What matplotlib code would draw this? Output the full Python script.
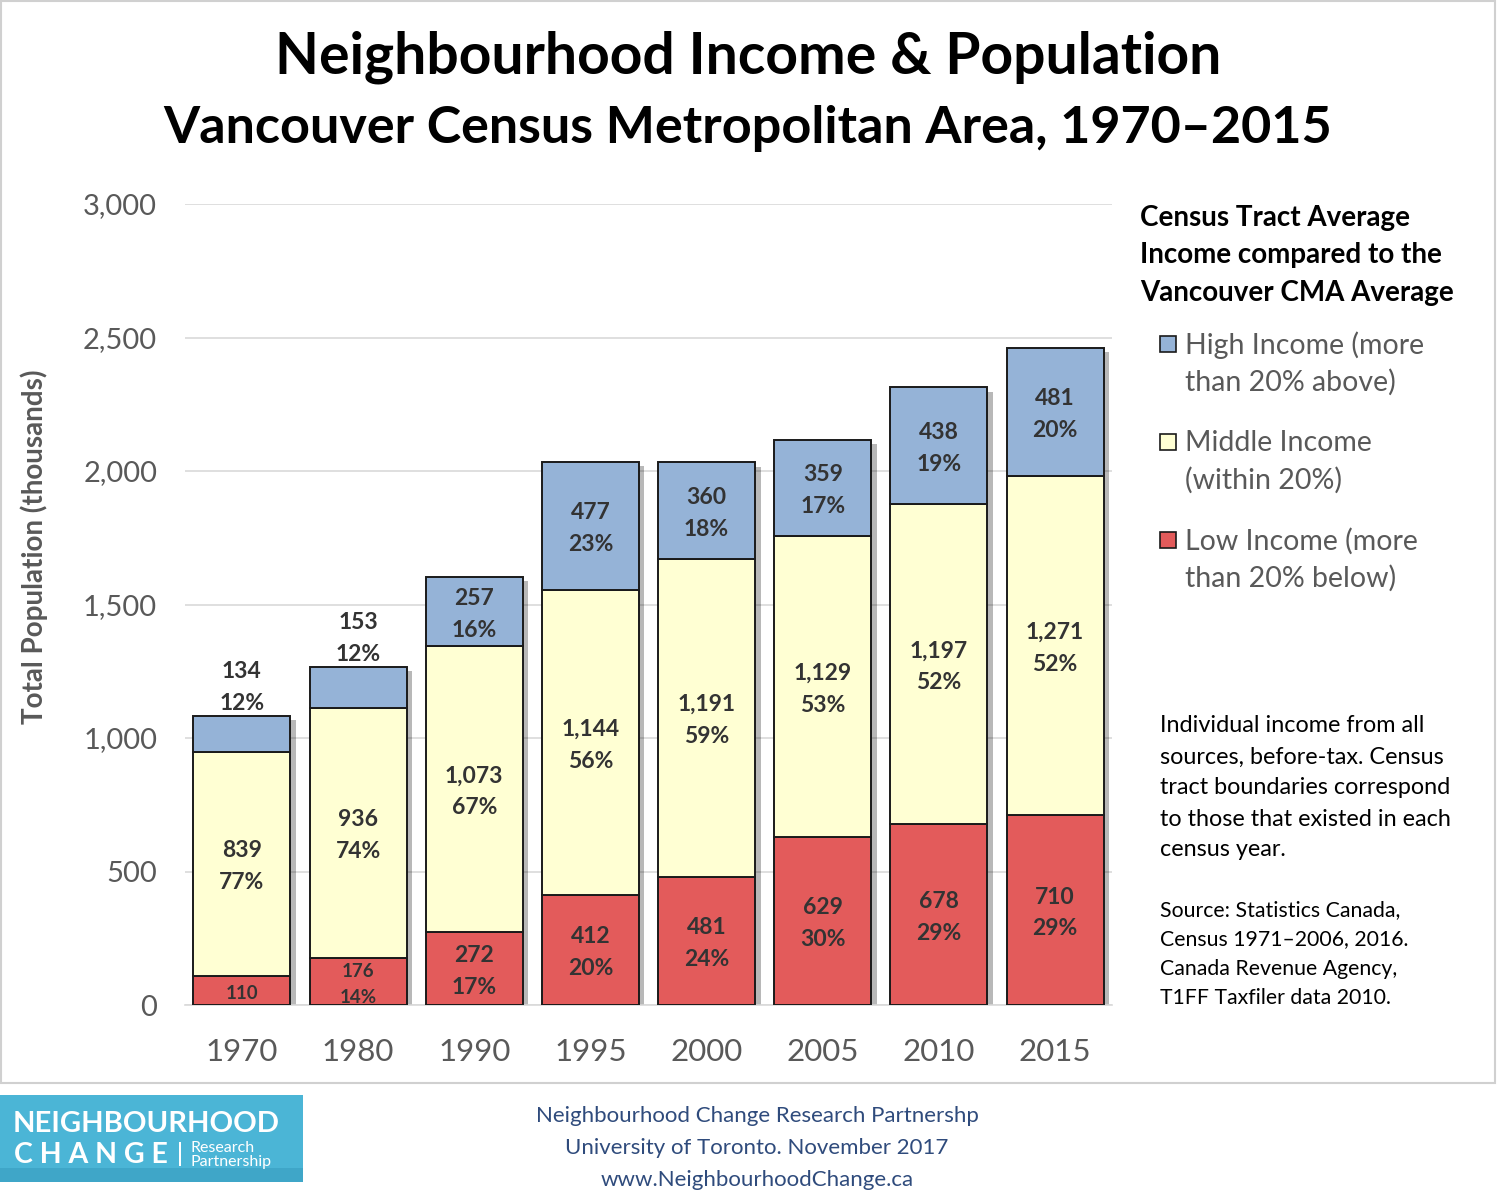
import matplotlib
matplotlib.use("Agg")
import matplotlib.pyplot as plt
import matplotlib.patheffects as pe
from matplotlib.patches import Rectangle
import numpy as np

years = ["1970", "1980", "1990", "1995", "2000", "2005", "2010", "2015"]
low = [110, 176, 272, 412, 481, 629, 678, 710]
middle = [839, 936, 1073, 1144, 1191, 1129, 1197, 1271]
high = [134, 153, 257, 477, 360, 359, 438, 481]
low_pct = ["", "14%", "17%", "20%", "24%", "30%", "29%", "29%"]
mid_pct = ["77%", "74%", "67%", "56%", "59%", "53%", "52%", "52%"]
high_pct = ["12%", "12%", "16%", "23%", "18%", "17%", "19%", "20%"]
yticks = [0, 500, 1000, 1500, 2000, 2500, 3000]

FONT = "Lato"
plt.rcParams["font.family"] = [FONT, "DejaVu Sans"]

W, H = 1500, 1199
fig = plt.figure(figsize=(W / 100, H / 100), dpi=100)

def fx(px):
    return px / W

def fy(py):
    return 1 - py / H

ax = fig.add_axes([fx(185), fy(1005), fx(1112) - fx(185), fy(204) - fy(1005)])

c_low = "#E35B5B"
c_mid = "#FFFFD3"
c_high = "#95B3D7"
txt = "#333333"
grey = "#595959"

x = np.arange(len(years))
bw = 0.835
low_a = np.array(low)
mid_a = np.array(middle)
high_a = np.array(high)
total = low_a + mid_a + high_a

# shadow base (whole stacked bar)
base = ax.bar(x, total, bw, color="white", edgecolor="none", linewidth=0, zorder=2)
shadow = [pe.SimplePatchShadow(offset=(4, -3), shadow_rgbFace="#000000", alpha=0.28), pe.Normal()]
for p in base:
    p.set_path_effects(shadow)

ax.bar(x, low_a, bw, color=c_low, edgecolor="#1a1a1a", linewidth=1.4, zorder=3)
ax.bar(x, mid_a, bw, bottom=low_a, color=c_mid, edgecolor="#1a1a1a", linewidth=1.4, zorder=3)
ax.bar(x, high_a, bw, bottom=low_a + mid_a, color=c_high, edgecolor="#1a1a1a", linewidth=1.4, zorder=3)

ax.set_xlim(-0.49, 7.49)
ax.set_ylim(0, 3000)
ax.set_yticks(yticks)
ax.set_yticklabels([f"{v:,}" for v in yticks])
ax.set_xticks(x)
ax.set_xticklabels(years)
ax.tick_params(axis="y", length=0, pad=20, labelsize=21, labelcolor=grey)
ax.tick_params(axis="x", length=0, pad=24, labelsize=22.5, labelcolor=grey)
ax.grid(axis="y", color="#D9D9D9", linewidth=1.2, zorder=0)
for s in ("top", "right", "left"):
    ax.spines[s].set_visible(False)
ax.spines["bottom"].set_color("#D9D9D9")
ax.spines["bottom"].set_linewidth(1.2)

fs = 16.5
OFF = 11.5  # points between line centre and segment centre
SHIFT = -2.0


def two_line(xi, yc, a, b, size=fs, off=OFF):
    ax.annotate(a, (xi, yc), xytext=(0, off + SHIFT), textcoords="offset points",
                ha="center", va="center", fontsize=size, fontweight="bold", color=txt, zorder=5)
    ax.annotate(b, (xi, yc), xytext=(0, -off + SHIFT), textcoords="offset points",
                ha="center", va="center", fontsize=size, fontweight="bold", color=txt, zorder=5)


for i in range(len(years)):
    # low
    yc = low[i] / 2
    if i == 0:
        ax.annotate(f"{low[i]:,}", (x[i], yc), xytext=(0, -2.5), textcoords="offset points",
                    ha="center", va="center", fontsize=13.5, fontweight="bold", color=txt, zorder=5)
    elif i == 1:
        two_line(x[i], yc, f"{low[i]:,}", low_pct[i], size=13.5, off=9.5)
    else:
        two_line(x[i], yc, f"{low[i]:,}", low_pct[i])
    # middle
    yc = low[i] + middle[i] / 2
    two_line(x[i], yc, f"{middle[i]:,}", mid_pct[i])
    # high
    top = total[i]
    if i < 2:
        ax.annotate(high_pct[i], (x[i], top), xytext=(0, 9), textcoords="offset points",
                    ha="center", va="center", fontsize=fs, fontweight="bold", color=txt, zorder=5)
        ax.annotate(f"{high[i]:,}", (x[i], top), xytext=(0, 32), textcoords="offset points",
                    ha="center", va="center", fontsize=fs, fontweight="bold", color=txt, zorder=5)
    else:
        yc = low[i] + middle[i] + high[i] / 2
        two_line(x[i], yc, f"{high[i]:,}", high_pct[i])

fig.text(fx(34), fy(547), "Total Population (thousands)", rotation=90, ha="center", va="center",
         fontsize=20, fontweight="bold", color=grey)

# title
fig.text(fx(748), fy(57), "Neighbourhood Income & Population", ha="center", va="center",
         fontsize=41, fontweight="bold", color="black")
fig.text(fx(748), fy(128), "Vancouver Census Metropolitan Area, 1970\u20132015", ha="center", va="center",
         fontsize=37.5, fontweight="bold", color="black")

# legend heading
for j, line in enumerate(["Census Tract Average", "Income compared to the", "Vancouver CMA Average"]):
    fig.text(fx(1140), fy(218 + j * 37.5), line, ha="left", va="center", fontsize=20,
             fontweight="bold", color="black")

entries = [(c_high, ["High Income (more", "than 20% above)"], 344),
           (c_mid, ["Middle Income", "(within 20%)"], 442),
           (c_low, ["Low Income (more", "than 20% below)"], 540)]
for col, lines, y0 in entries:
    fig.patches.append(Rectangle((fx(1160), fy(y0 + 8)), fx(16), 16 / H, transform=fig.transFigure,
                                 facecolor=col, edgecolor="#1a1a1a", linewidth=1.2))
    for j, line in enumerate(lines):
        fig.text(fx(1185), fy(y0 + 1 + j * 37), line, ha="left", va="center", fontsize=20.5, color=grey)

note = ["Individual income from all", "sources, before-tax. Census", "tract boundaries correspond",
        "to those that existed in each", "census year."]
for j, line in enumerate(note):
    fig.text(fx(1160), fy(726 + j * 31), line, ha="left", va="center", fontsize=16.8, color="black")
src = ["Source: Statistics Canada,", "Census 1971\u20132006, 2016.", "Canada Revenue Agency,",
       "T1FF Taxfiler data 2010."]
for j, line in enumerate(src):
    fig.text(fx(1160), fy(910 + j * 29.5), line, ha="left", va="center", fontsize=15.3, color="black")

# border
fig.patches.append(Rectangle((fx(1), fy(1083)), fx(1494), (1083 - 1) / H, transform=fig.transFigure,
                             facecolor="none", edgecolor="#D0D0D0", linewidth=1.5))

# footer
foot = ["Neighbourhood Change Research Partnershp", "University of Toronto. November 2017",
        "www.NeighbourhoodChange.ca"]
for j, line in enumerate(foot):
    fig.text(fx(757), fy(1116 + j * 32), line, ha="center", va="center", fontsize=16, color="#2F4B7C")

# logo
fig.patches.append(Rectangle((0, fy(1182)), fx(303), (1182 - 1095) / H, transform=fig.transFigure,
                             facecolor="#4BB5D6", edgecolor="none"))
fig.patches.append(Rectangle((0, fy(1182)), fx(303), (1182 - 1168) / H, transform=fig.transFigure,
                             facecolor="#3FA6C8", edgecolor="none"))
fig.text(fx(13), fy(1124), "NEIGHBOURHOOD", ha="left", va="center", fontsize=21, fontweight="bold", color="white")
fig.text(fx(14), fy(1155), "C H A N G E", ha="left", va="center", fontsize=20.5, fontweight="bold", color="white")
fig.patches.append(Rectangle((fx(179), fy(1166)), fx(1.5), 24 / H, transform=fig.transFigure,
                             facecolor="white", edgecolor="none"))
fig.text(fx(190), fy(1148), "Research", ha="left", va="center", fontsize=11.5, color="white")
fig.text(fx(190), fy(1162), "Partnership", ha="left", va="center", fontsize=11.5, color="white")

fig.savefig("out.png", dpi=100, facecolor="white")
